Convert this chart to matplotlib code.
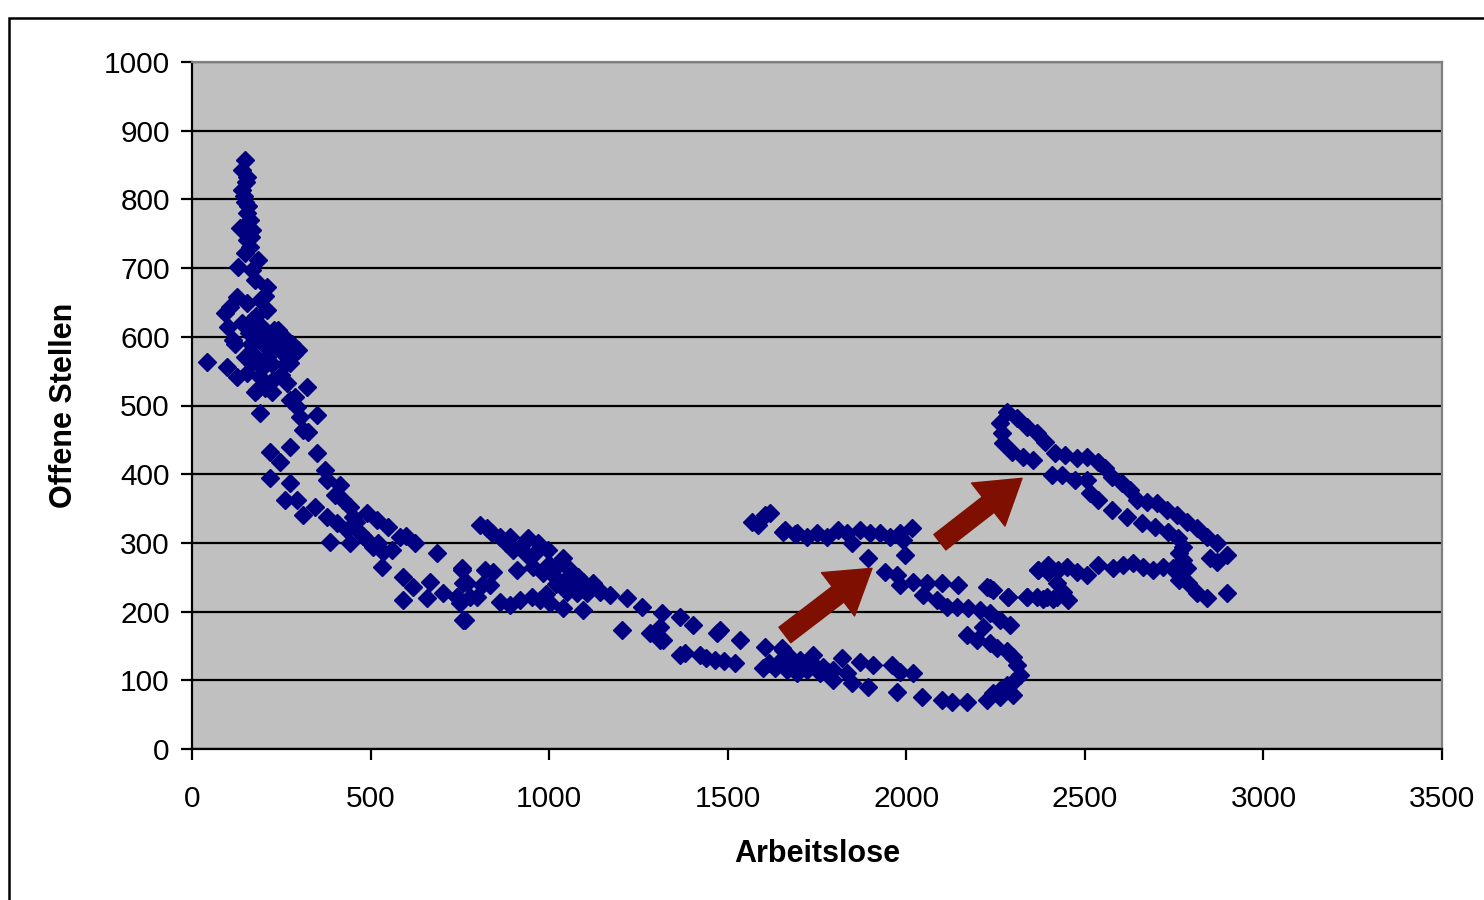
import numpy as np
import matplotlib
matplotlib.use("Agg")
import matplotlib.pyplot as plt
from matplotlib.patches import Rectangle

plt.rcParams['font.family'] = ['Liberation Sans', 'DejaVu Sans']

# (Arbeitslose, Offene Stellen) pairs, grouped by stretch of the curve
spitze = [(148, 857), (140, 843), (154, 833), (140, 814), (148, 796), (154, 780), (162, 770),
          (134, 758), (168, 755), (154, 741), (162, 731), (148, 722), (185, 712), (129, 702),
          (168, 697), (176, 683), (150, 825), (145, 805), (158, 790), (165, 745)]

haufen = [(210, 673), (126, 658), (106, 644), (154, 649), (190, 654), (92, 635), (210, 639),
          (101, 614), (168, 624), (196, 614), (241, 610), (115, 595), (182, 600), (218, 595),
          (266, 595), (297, 581), (42, 563), (98, 556), (126, 542), (148, 571), (171, 566),
          (210, 571), (246, 581), (274, 562), (154, 547), (190, 542), (227, 537), (182, 523),
          (224, 520), (266, 533), (322, 527), (190, 489), (274, 508), (294, 498), (350, 486),
          (302, 483), (311, 464), (176, 520), (288, 512), (325, 461), (140, 620), (160, 605),
          (180, 630), (200, 590), (230, 610), (250, 580), (170, 575), (195, 555), (215, 585),
          (235, 600), (260, 560), (285, 575), (205, 660), (120, 590), (185, 615), (225, 560),
          (250, 545), (205, 525), (240, 595), (165, 590), (205, 605), (280, 590)]

abstieg = [(218, 432), (246, 418), (274, 440), (350, 431), (372, 406), (378, 392), (218, 394),
           (274, 387), (414, 384), (260, 362), (294, 362), (311, 341), (344, 352), (423, 362),
           (442, 352), (378, 338), (406, 329), (434, 319), (451, 338), (490, 343), (518, 333),
           (549, 323), (470, 314), (490, 304), (507, 294), (535, 287), (532, 265), (386, 301),
           (442, 300), (582, 309), (624, 300), (686, 285), (756, 261), (591, 251), (619, 236),
           (591, 217), (658, 220), (666, 243), (703, 227), (742, 221), (759, 188), (770, 242),
           (400, 370), (460, 330), (480, 310), (520, 300), (560, 290), (600, 310)]

mitte = [(806, 326), (826, 321), (862, 309), (890, 309), (899, 290), (941, 307), (969, 300),
         (997, 290), (1039, 278), (938, 282), (955, 265), (983, 256), (1011, 253), (1058, 261),
         (1036, 241), (1067, 246), (1095, 243), (1123, 241), (1050, 229), (1078, 227),
         (1106, 227), (1142, 229), (1170, 224), (1002, 212), (1039, 205), (1095, 202),
         (910, 261), (820, 261), (843, 258), (756, 263), (759, 241), (742, 221), (778, 221),
         (812, 239), (834, 239), (798, 221), (750, 212), (764, 188), (862, 214), (890, 210),
         (918, 217), (952, 221), (974, 217), (840, 315), (880, 300), (920, 295), (960, 285),
         (1000, 270), (1020, 265), (1060, 255), (1080, 250), (1110, 235), (1140, 232),
         (1020, 240), (1050, 245), (990, 225)]

unten = [(1218, 220), (1260, 207), (1316, 198), (1366, 192), (1403, 180), (1204, 173),
         (1282, 169), (1310, 178), (1319, 159), (1470, 169), (1534, 159), (1604, 148),
         (1652, 147), (1310, 159), (1366, 137), (1422, 137), (1464, 130), (1520, 125),
         (1478, 173), (1599, 118), (1632, 118), (1380, 140), (1440, 132), (1490, 128),
         (1655, 144), (1674, 134), (1702, 130), (1739, 137), (1767, 119), (1795, 115),
         (1820, 132), (1834, 110), (1870, 127), (1907, 122), (1848, 96), (1893, 90),
         (1960, 122), (1982, 112), (2019, 110), (1666, 115), (1694, 110), (1722, 115),
         (1758, 110), (1795, 100), (1974, 83), (2044, 76), (2100, 71), (2128, 68), (2170, 68),
         (2234, 198), (2262, 188), (2290, 180), (2215, 178), (2170, 166), (2198, 159),
         (2234, 154), (2254, 147), (2282, 142), (2299, 134), (2310, 122), (2318, 108),
         (2299, 98), (2282, 93), (2262, 86), (2243, 81), (2226, 71), (2262, 76), (2299, 79),
         (1615, 125), (1645, 128), (1685, 122), (1712, 124), (1748, 120), (1780, 112)]

rueckweg = [(1893, 278), (1940, 258), (1974, 253), (1982, 239), (2019, 243), (2058, 241),
            (2100, 241), (2145, 239), (2047, 224), (2086, 217), (2114, 207), (2142, 207),
            (2173, 205), (2206, 202), (2226, 236), (2243, 231), (2285, 221), (2338, 221),
            (2369, 261), (2397, 258), (2383, 219), (2411, 219), (1996, 282)]

oben = [(1585, 326), (1618, 343), (1655, 316), (1688, 313), (1568, 330), (1604, 340),
        (1694, 314), (1722, 309), (1750, 314), (1778, 309), (1809, 319), (1834, 314),
        (1848, 300), (1870, 319), (1898, 314), (1926, 314), (1954, 309), (1982, 314),
        (1991, 304), (2016, 321), (1660, 319)]

schleife = [(2282, 491), (2262, 474), (2268, 460), (2271, 445), (2296, 432), (2327, 425),
            (2355, 420), (2310, 482), (2338, 469), (2366, 460), (2388, 447), (2416, 431),
            (2444, 428), (2478, 424), (2506, 425), (2537, 418), (2556, 409), (2576, 396),
            (2604, 387), (2626, 377), (2646, 362), (2674, 360), (2702, 358), (2730, 348),
            (2758, 341), (2786, 330), (2814, 321), (2842, 309), (2870, 300), (2898, 282),
            (2870, 272), (2850, 278), (2408, 399), (2436, 399), (2472, 392), (2506, 392),
            (2514, 373), (2537, 362), (2576, 348), (2618, 338), (2660, 329), (2697, 323),
            (2733, 316), (2761, 307), (2775, 294), (2764, 285), (2775, 275), (2786, 263),
            (2758, 256), (2764, 246), (2789, 241), (2814, 227), (2842, 220), (2898, 227),
            (2369, 261), (2397, 268), (2425, 261), (2450, 265), (2478, 258), (2506, 253),
            (2537, 268), (2579, 263), (2607, 268), (2635, 271), (2663, 265), (2691, 261),
            (2719, 265), (2747, 263), (2422, 241), (2439, 229), (2453, 217), (2422, 221),
            (2394, 221), (2366, 221), (2338, 221), (2285, 221), (2234, 234)]

# arrows marking the shift of the curve: (tail, head)
pfeile = [((1660, 166), (1904, 263)), ((2094, 301), (2324, 394))]

punkte = np.array(spitze + haufen + abstieg + mitte + unten + rueckweg + oben + schleife)

fig = plt.figure(figsize=(14.84, 9), dpi=100)
ax = fig.add_axes([192 / 1484, 1 - 749 / 900, (1442 - 192) / 1484, (749 - 62) / 900])
ax.set_facecolor('#c0c0c0')

ax.plot(punkte[:, 0], punkte[:, 1], linestyle='none', marker='D', markersize=8.8,
        color='#000080', zorder=3)

for (x0, y0), (x1, y1) in pfeile:
    ax.annotate('', xy=(x1, y1), xytext=(x0, y0),
                arrowprops=dict(arrowstyle='simple,head_length=2.2,head_width=2.8,tail_width=1.0',
                                mutation_scale=14, color='#7f0f00', shrinkA=0, shrinkB=0),
                zorder=4)

ax.set_xlim(0, 3500)
ax.set_ylim(0, 1000)
ax.set_xticks(np.arange(0, 3501, 500))
ax.set_yticks(np.arange(0, 1001, 100))
ax.grid(axis='y', color='black', linewidth=1.6)
ax.set_axisbelow(True)

for side in ['left', 'bottom']:
    ax.spines[side].set_color('black')
    ax.spines[side].set_linewidth(1.6)
for side in ['top', 'right']:
    ax.spines[side].set_color('#808080')
    ax.spines[side].set_linewidth(1.6)

ax.tick_params(axis='both', direction='out', length=8, width=1.6, labelsize=21.5)
ax.tick_params(axis='x', pad=18)
ax.tick_params(axis='y', pad=8)

ax.set_xlabel('Arbeitslose', fontsize=22, fontweight='bold', labelpad=19)
ax.set_ylabel('Offene Stellen', fontsize=22, fontweight='bold', labelpad=18)

# outer chart frame, running past the right and bottom edges
fig.patches.append(Rectangle((9 / 1484, -0.05), 1.1, 1.04 - 9 / 900,
                             transform=fig.transFigure, fill=False, edgecolor='black',
                             linewidth=1.8, clip_on=False))

fig.savefig('out.png', dpi=100)
